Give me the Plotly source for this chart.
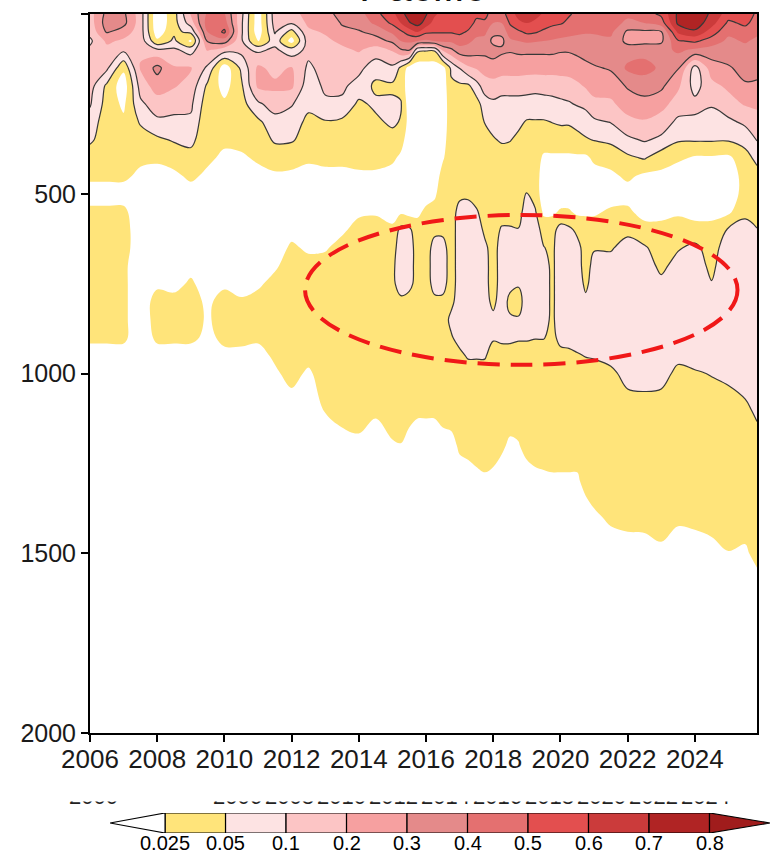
import numpy as np
import plotly.graph_objects as go

# time axis (finer spacing where the deep structure is narrow)
years = [2006.0, 2006.5, 2007.0, 2007.5, 2008.0, 2008.5, 2009.0, 2009.5, 2010.0, 2010.5,
         2011.0, 2011.5, 2012.0, 2012.5, 2013.0, 2013.5, 2014.0, 2014.5, 2015.0,
         2015.25, 2015.5, 2015.75, 2016.0, 2016.25, 2016.5, 2016.75, 2017.0, 2017.25,
         2017.5, 2017.75, 2018.0, 2018.25, 2018.5, 2018.75, 2019.0, 2019.25, 2019.5,
         2019.75, 2020.0, 2020.25, 2020.5, 2020.75, 2021.0, 2021.5, 2022.0, 2022.5,
         2023.0, 2023.5, 2024.0, 2024.5, 2025.0, 2025.5, 2025.85]

depth_upper = [0, 25, 50, 75, 100, 150, 200, 250, 300, 350]
depth_mid = [400, 450, 500, 550, 600, 650, 700, 750, 800, 850, 900, 950]
depth_deep = [1000, 1100, 1200, 1300, 1400, 1500, 1600, 2000]

# one profile per year
upper_layer = [
    [0.16, 0.15, 0.13, 0.09, 0.12, 0.15, 0.14, 0.11, 0.08, 0.06],      # 2006.0
    [0.33, 0.35, 0.31, 0.22, 0.17, 0.12, 0.045, 0.04, 0.035, 0.035],  # 2006.5
    [0.32, 0.33, 0.25, 0.18, 0.12, 0.03, 0.01, 0.02, 0.03, 0.035],    # 2007.0
    [0.15, 0.15, 0.15, 0.16, 0.18, 0.21, 0.14, 0.09, 0.055, 0.04],    # 2007.5
    [0.005, 0.005, 0.01, 0.03, 0.12, 0.33, 0.25, 0.15, 0.09, 0.045],  # 2008.0
    [0.04, 0.04, 0.045, 0.06, 0.12, 0.21, 0.21, 0.13, 0.09, 0.055],   # 2008.5
    [0.21, 0.15, 0.06, 0.02, 0.08, 0.21, 0.16, 0.12, 0.09, 0.065],    # 2009.0
    [0.42, 0.45, 0.4, 0.31, 0.21, 0.09, 0.045, 0.035, 0.03, 0.03],    # 2009.5
    [0.41, 0.45, 0.52, 0.35, 0.14, 0.01, 0.015, 0.03, 0.035, 0.03],   # 2010.0
    [0.13, 0.12, 0.12, 0.12, 0.13, 0.06, 0.045, 0.04, 0.04, 0.035],   # 2010.5
    [0.01, 0.01, 0.01, 0.02, 0.09, 0.22, 0.22, 0.09, 0.045, 0.04],    # 2011.0
    [0.15, 0.14, 0.11, 0.08, 0.12, 0.17, 0.22, 0.15, 0.08, 0.055],    # 2011.5
    [0.12, 0.11, 0.04, 0.015, 0.07, 0.21, 0.22, 0.11, 0.07, 0.055],   # 2012.0
    [0.28, 0.22, 0.18, 0.15, 0.13, 0.09, 0.07, 0.06, 0.045, 0.04],    # 2012.5
    [0.26, 0.22, 0.21, 0.18, 0.16, 0.14, 0.12, 0.09, 0.048, 0.04],    # 2013.0
    [0.34, 0.31, 0.27, 0.22, 0.18, 0.14, 0.12, 0.09, 0.045, 0.04],    # 2013.5
    [0.36, 0.34, 0.29, 0.24, 0.21, 0.13, 0.08, 0.045, 0.04, 0.04],    # 2014.0
    [0.47, 0.42, 0.33, 0.26, 0.16, 0.07, 0.045, 0.06, 0.045, 0.04],   # 2014.5
    [0.57, 0.52, 0.42, 0.32, 0.21, 0.09, 0.045, 0.06, 0.06, 0.04],    # 2015.0
    [0.66, 0.6, 0.48, 0.4, 0.29, 0.045, 0.04, 0.055, 0.048, 0.035],   # 2015.25
    [0.75, 0.69, 0.55, 0.42, 0.31, 0.015, 0.01, 0.01, 0.015, 0.01],   # 2015.5
    [0.78, 0.74, 0.6, 0.4, 0.06, 0.01, 0.01, 0.01, 0.01, 0.01],       # 2015.75
    [0.71, 0.66, 0.52, 0.38, 0.055, 0.01, 0.01, 0.01, 0.01, 0.01],    # 2016.0
    [0.62, 0.56, 0.51, 0.4, 0.055, 0.01, 0.01, 0.01, 0.01, 0.01],     # 2016.25
    [0.56, 0.53, 0.51, 0.42, 0.22, 0.015, 0.01, 0.01, 0.01, 0.015],   # 2016.5
    [0.55, 0.53, 0.51, 0.42, 0.28, 0.06, 0.045, 0.04, 0.04, 0.04],    # 2016.75
    [0.56, 0.55, 0.52, 0.45, 0.36, 0.105, 0.045, 0.04, 0.04, 0.04],   # 2017.0
    [0.56, 0.54, 0.49, 0.42, 0.36, 0.18, 0.045, 0.04, 0.04, 0.04],    # 2017.25
    [0.52, 0.48, 0.43, 0.38, 0.34, 0.21, 0.08, 0.04, 0.04, 0.04],     # 2017.5
    [0.53, 0.48, 0.42, 0.37, 0.33, 0.24, 0.15, 0.075, 0.052, 0.04],   # 2017.75
    [0.45, 0.4, 0.33, 0.27, 0.34, 0.26, 0.16, 0.09, 0.065, 0.048],    # 2018.0
    [0.45, 0.4, 0.33, 0.27, 0.32, 0.24, 0.15, 0.08, 0.07, 0.055],     # 2018.25
    [0.56, 0.51, 0.45, 0.38, 0.31, 0.24, 0.15, 0.08, 0.065, 0.052],   # 2018.5
    [0.63, 0.58, 0.48, 0.4, 0.32, 0.24, 0.15, 0.08, 0.06, 0.045],     # 2018.75
    [0.66, 0.6, 0.52, 0.42, 0.32, 0.24, 0.14, 0.08, 0.048, 0.04],     # 2019.0
    [0.63, 0.58, 0.51, 0.41, 0.32, 0.24, 0.13, 0.08, 0.048, 0.04],    # 2019.25
    [0.59, 0.55, 0.48, 0.4, 0.32, 0.24, 0.14, 0.08, 0.048, 0.04],     # 2019.5
    [0.56, 0.52, 0.46, 0.39, 0.32, 0.24, 0.14, 0.085, 0.051, 0.04],   # 2019.75
    [0.53, 0.51, 0.44, 0.38, 0.31, 0.24, 0.15, 0.09, 0.055, 0.04],    # 2020.0
    [0.51, 0.48, 0.43, 0.37, 0.31, 0.24, 0.16, 0.095, 0.055, 0.04],   # 2020.25
    [0.48, 0.46, 0.42, 0.36, 0.32, 0.26, 0.18, 0.11, 0.06, 0.045],    # 2020.5
    [0.46, 0.44, 0.41, 0.36, 0.33, 0.28, 0.21, 0.13, 0.07, 0.048],    # 2020.75
    [0.46, 0.44, 0.41, 0.37, 0.35, 0.29, 0.23, 0.18, 0.09, 0.052],    # 2021.0
    [0.46, 0.44, 0.42, 0.38, 0.36, 0.31, 0.25, 0.18, 0.105, 0.06],    # 2021.5
    [0.42, 0.38, 0.28, 0.27, 0.35, 0.42, 0.31, 0.25, 0.17, 0.09],     # 2022.0
    [0.46, 0.4, 0.28, 0.27, 0.36, 0.44, 0.34, 0.27, 0.19, 0.11],      # 2022.5
    [0.52, 0.45, 0.29, 0.28, 0.36, 0.38, 0.32, 0.24, 0.15, 0.09],     # 2023.0
    [0.72, 0.72, 0.62, 0.49, 0.42, 0.31, 0.22, 0.15, 0.09, 0.055],    # 2023.5
    [0.78, 0.76, 0.68, 0.52, 0.38, 0.08, 0.08, 0.13, 0.09, 0.055],    # 2024.0
    [0.68, 0.64, 0.55, 0.45, 0.36, 0.25, 0.17, 0.11, 0.08, 0.055],    # 2024.5
    [0.55, 0.48, 0.42, 0.38, 0.35, 0.29, 0.22, 0.16, 0.09, 0.055],    # 2025.0
    [0.56, 0.52, 0.46, 0.41, 0.37, 0.33, 0.29, 0.21, 0.12, 0.07],     # 2025.5
    [0.48, 0.46, 0.42, 0.38, 0.35, 0.32, 0.29, 0.22, 0.16, 0.105],    # 2025.85
]

middle_layer = [
    [0.035, 0.03, 0.015, 0.03, 0.04, 0.04, 0.04, 0.04, 0.04, 0.035, 0.03, 0.015],     # 2006.0
    [0.035, 0.03, 0.015, 0.03, 0.04, 0.04, 0.04, 0.04, 0.035, 0.035, 0.03, 0.015],    # 2006.5
    [0.035, 0.03, 0.015, 0.03, 0.035, 0.035, 0.03, 0.03, 0.03, 0.03, 0.03, 0.015],    # 2007.0
    [0.03, 0.02, 0.01, 0.01, 0.01, 0.01, 0.01, 0.01, 0.01, 0.01, 0.01, 0.01],         # 2007.5
    [0.03, 0.015, 0.01, 0.01, 0.01, 0.01, 0.01, 0.02, 0.035, 0.035, 0.03, 0.015],     # 2008.0
    [0.035, 0.02, 0.01, 0.01, 0.01, 0.01, 0.01, 0.015, 0.035, 0.035, 0.03, 0.015],    # 2008.5
    [0.04, 0.03, 0.015, 0.01, 0.01, 0.01, 0.015, 0.03, 0.035, 0.035, 0.03, 0.015],    # 2009.0
    [0.03, 0.02, 0.01, 0.01, 0.01, 0.01, 0.01, 0.01, 0.02, 0.022, 0.02, 0.01],        # 2009.5
    [0.02, 0.01, 0.01, 0.01, 0.01, 0.01, 0.01, 0.02, 0.035, 0.035, 0.03, 0.02],       # 2010.0
    [0.02, 0.01, 0.01, 0.01, 0.01, 0.01, 0.01, 0.01, 0.03, 0.035, 0.03, 0.02],        # 2010.5
    [0.03, 0.015, 0.01, 0.01, 0.01, 0.01, 0.01, 0.02, 0.035, 0.035, 0.03, 0.015],     # 2011.0
    [0.04, 0.02, 0.01, 0.01, 0.01, 0.01, 0.02, 0.035, 0.04, 0.04, 0.04, 0.03],        # 2011.5
    [0.035, 0.02, 0.01, 0.01, 0.015, 0.03, 0.04, 0.04, 0.04, 0.04, 0.04, 0.04],       # 2012.0
    [0.03, 0.015, 0.01, 0.01, 0.01, 0.02, 0.035, 0.04, 0.04, 0.04, 0.04, 0.035],      # 2012.5
    [0.035, 0.015, 0.01, 0.01, 0.01, 0.022, 0.035, 0.04, 0.04, 0.04, 0.04, 0.04],     # 2013.0
    [0.035, 0.015, 0.01, 0.01, 0.02, 0.035, 0.04, 0.04, 0.04, 0.04, 0.04, 0.04],      # 2013.5
    [0.035, 0.02, 0.01, 0.02, 0.035, 0.04, 0.04, 0.04, 0.04, 0.04, 0.04, 0.04],       # 2014.0
    [0.035, 0.02, 0.01, 0.022, 0.035, 0.04, 0.04, 0.04, 0.04, 0.04, 0.04, 0.04],      # 2014.5
    [0.03, 0.015, 0.01, 0.015, 0.03, 0.04, 0.045, 0.045, 0.04, 0.04, 0.04, 0.04],     # 2015.0
    [0.02, 0.01, 0.01, 0.02, 0.065, 0.075, 0.075, 0.07, 0.045, 0.04, 0.04, 0.04],     # 2015.25
    [0.01, 0.02, 0.02, 0.015, 0.06, 0.07, 0.07, 0.065, 0.04, 0.04, 0.04, 0.04],       # 2015.5
    [0.01, 0.01, 0.01, 0.02, 0.035, 0.04, 0.04, 0.04, 0.04, 0.04, 0.04, 0.04],        # 2015.75
    [0.01, 0.01, 0.015, 0.03, 0.04, 0.04, 0.04, 0.04, 0.04, 0.04, 0.04, 0.04],        # 2016.0
    [0.01, 0.01, 0.02, 0.035, 0.045, 0.065, 0.07, 0.065, 0.045, 0.04, 0.04, 0.04],    # 2016.25
    [0.022, 0.035, 0.04, 0.04, 0.045, 0.065, 0.07, 0.065, 0.045, 0.04, 0.04, 0.04],   # 2016.5
    [0.04, 0.04, 0.04, 0.04, 0.04, 0.04, 0.04, 0.04, 0.045, 0.06, 0.048, 0.04],       # 2016.75
    [0.04, 0.04, 0.045, 0.065, 0.07, 0.07, 0.07, 0.07, 0.07, 0.07, 0.065, 0.045],     # 2017.0
    [0.04, 0.04, 0.045, 0.07, 0.075, 0.075, 0.075, 0.075, 0.075, 0.07, 0.07, 0.055],  # 2017.25
    [0.04, 0.04, 0.04, 0.055, 0.075, 0.075, 0.075, 0.075, 0.075, 0.075, 0.07, 0.055], # 2017.5
    [0.04, 0.04, 0.04, 0.04, 0.045, 0.06, 0.065, 0.065, 0.065, 0.065, 0.065, 0.055],  # 2017.75
    [0.04, 0.04, 0.04, 0.04, 0.04, 0.04, 0.04, 0.04, 0.045, 0.06, 0.055, 0.04],       # 2018.0
    [0.04, 0.035, 0.035, 0.04, 0.055, 0.07, 0.07, 0.07, 0.07, 0.07, 0.06, 0.04],      # 2018.25
    [0.04, 0.04, 0.04, 0.04, 0.055, 0.07, 0.07, 0.06, 0.045, 0.055, 0.06, 0.04],      # 2018.5
    [0.04, 0.04, 0.04, 0.04, 0.052, 0.065, 0.065, 0.055, 0.04, 0.055, 0.055, 0.04],   # 2018.75
    [0.04, 0.04, 0.052, 0.075, 0.075, 0.075, 0.075, 0.075, 0.075, 0.07, 0.055, 0.04], # 2019.0
    [0.04, 0.04, 0.04, 0.055, 0.075, 0.075, 0.075, 0.075, 0.075, 0.07, 0.052, 0.04],  # 2019.25
    [0.02, 0.01, 0.01, 0.02, 0.04, 0.052, 0.07, 0.075, 0.075, 0.07, 0.052, 0.04],     # 2019.5
    [0.02, 0.01, 0.01, 0.02, 0.04, 0.045, 0.045, 0.045, 0.045, 0.045, 0.045, 0.04],   # 2019.75
    [0.02, 0.01, 0.01, 0.028, 0.07, 0.075, 0.075, 0.075, 0.075, 0.075, 0.06, 0.045],  # 2020.0
    [0.02, 0.01, 0.01, 0.028, 0.06, 0.075, 0.075, 0.075, 0.075, 0.075, 0.065, 0.045], # 2020.25
    [0.02, 0.01, 0.01, 0.02, 0.045, 0.065, 0.07, 0.075, 0.075, 0.075, 0.07, 0.048],   # 2020.5
    [0.02, 0.01, 0.01, 0.02, 0.04, 0.04, 0.04, 0.045, 0.06, 0.07, 0.07, 0.052],       # 2020.75
    [0.03, 0.015, 0.01, 0.02, 0.04, 0.048, 0.065, 0.07, 0.075, 0.075, 0.07, 0.055],   # 2021.0
    [0.035, 0.02, 0.01, 0.03, 0.04, 0.048, 0.065, 0.07, 0.075, 0.075, 0.075, 0.065],  # 2021.5
    [0.045, 0.03, 0.015, 0.03, 0.045, 0.065, 0.075, 0.075, 0.075, 0.08, 0.08, 0.075], # 2022.0
    [0.055, 0.02, 0.01, 0.015, 0.035, 0.055, 0.07, 0.075, 0.08, 0.08, 0.08, 0.08],    # 2022.5
    [0.035, 0.02, 0.01, 0.015, 0.035, 0.04, 0.045, 0.06, 0.075, 0.08, 0.08, 0.08],    # 2023.0
    [0.03, 0.01, 0.01, 0.02, 0.04, 0.048, 0.065, 0.075, 0.075, 0.075, 0.075, 0.06],   # 2023.5
    [0.022, 0.01, 0.01, 0.015, 0.035, 0.06, 0.07, 0.075, 0.075, 0.075, 0.075, 0.065], # 2024.0
    [0.022, 0.01, 0.01, 0.015, 0.035, 0.04, 0.045, 0.052, 0.07, 0.075, 0.075, 0.07],  # 2024.5
    [0.02, 0.01, 0.01, 0.02, 0.055, 0.075, 0.08, 0.08, 0.08, 0.08, 0.08, 0.08],       # 2025.0
    [0.04, 0.035, 0.035, 0.045, 0.065, 0.075, 0.08, 0.08, 0.08, 0.08, 0.08, 0.08],    # 2025.5
    [0.065, 0.04, 0.035, 0.04, 0.052, 0.07, 0.075, 0.08, 0.08, 0.08, 0.08, 0.08],     # 2025.85
]

deep_layer = [
    [0.01, 0.01, 0.01, 0.01, 0.01, 0.01, 0.01, 0.005],     # 2006.0
    [0.01, 0.01, 0.01, 0.01, 0.01, 0.01, 0.01, 0.005],     # 2006.5
    [0.01, 0.01, 0.01, 0.01, 0.01, 0.01, 0.01, 0.005],     # 2007.0
    [0.01, 0.01, 0.01, 0.01, 0.01, 0.01, 0.01, 0.005],     # 2007.5
    [0.01, 0.01, 0.01, 0.01, 0.01, 0.01, 0.01, 0.005],     # 2008.0
    [0.01, 0.01, 0.01, 0.01, 0.01, 0.01, 0.01, 0.005],     # 2008.5
    [0.01, 0.01, 0.01, 0.01, 0.01, 0.01, 0.01, 0.005],     # 2009.0
    [0.01, 0.01, 0.01, 0.01, 0.01, 0.01, 0.01, 0.005],     # 2009.5
    [0.01, 0.01, 0.01, 0.01, 0.01, 0.01, 0.01, 0.005],     # 2010.0
    [0.01, 0.01, 0.01, 0.01, 0.01, 0.01, 0.01, 0.005],     # 2010.5
    [0.01, 0.01, 0.01, 0.01, 0.01, 0.01, 0.01, 0.005],     # 2011.0
    [0.02, 0.01, 0.01, 0.01, 0.01, 0.01, 0.01, 0.005],     # 2011.5
    [0.035, 0.01, 0.01, 0.01, 0.01, 0.01, 0.01, 0.005],    # 2012.0
    [0.02, 0.01, 0.01, 0.01, 0.01, 0.01, 0.01, 0.005],     # 2012.5
    [0.04, 0.027, 0.01, 0.01, 0.01, 0.01, 0.01, 0.005],    # 2013.0
    [0.04, 0.035, 0.015, 0.01, 0.01, 0.01, 0.01, 0.005],   # 2013.5
    [0.04, 0.035, 0.02, 0.01, 0.01, 0.01, 0.01, 0.005],    # 2014.0
    [0.04, 0.03, 0.01, 0.01, 0.01, 0.01, 0.01, 0.005],     # 2014.5
    [0.04, 0.035, 0.023, 0.01, 0.01, 0.01, 0.01, 0.005],   # 2015.0
    [0.04, 0.04, 0.024, 0.01, 0.01, 0.01, 0.01, 0.005],    # 2015.25
    [0.04, 0.035, 0.015, 0.01, 0.01, 0.01, 0.01, 0.005],   # 2015.5
    [0.04, 0.03, 0.01, 0.01, 0.01, 0.01, 0.01, 0.005],     # 2015.75
    [0.04, 0.03, 0.01, 0.01, 0.01, 0.01, 0.01, 0.005],     # 2016.0
    [0.04, 0.03, 0.01, 0.01, 0.01, 0.01, 0.01, 0.005],     # 2016.25
    [0.04, 0.035, 0.015, 0.01, 0.01, 0.01, 0.01, 0.005],   # 2016.5
    [0.04, 0.04, 0.015, 0.01, 0.01, 0.01, 0.01, 0.005],    # 2016.75
    [0.04, 0.04, 0.03, 0.01, 0.01, 0.01, 0.01, 0.005],     # 2017.0
    [0.04, 0.04, 0.035, 0.01, 0.01, 0.01, 0.01, 0.005],    # 2017.25
    [0.04, 0.04, 0.04, 0.015, 0.01, 0.01, 0.01, 0.005],    # 2017.5
    [0.04, 0.04, 0.04, 0.02, 0.01, 0.01, 0.01, 0.005],     # 2017.75
    [0.04, 0.04, 0.04, 0.015, 0.01, 0.01, 0.01, 0.005],    # 2018.0
    [0.04, 0.04, 0.03, 0.01, 0.01, 0.01, 0.01, 0.005],     # 2018.25
    [0.04, 0.04, 0.02, 0.01, 0.01, 0.01, 0.01, 0.005],     # 2018.5
    [0.04, 0.04, 0.023, 0.01, 0.01, 0.01, 0.01, 0.005],    # 2018.75
    [0.04, 0.04, 0.035, 0.01, 0.01, 0.01, 0.01, 0.005],    # 2019.0
    [0.04, 0.04, 0.04, 0.015, 0.01, 0.01, 0.01, 0.005],    # 2019.25
    [0.04, 0.04, 0.04, 0.018, 0.01, 0.01, 0.01, 0.005],    # 2019.5
    [0.04, 0.04, 0.04, 0.02, 0.01, 0.01, 0.01, 0.005],     # 2019.75
    [0.04, 0.04, 0.04, 0.02, 0.01, 0.01, 0.01, 0.005],     # 2020.0
    [0.04, 0.04, 0.04, 0.02, 0.01, 0.01, 0.01, 0.005],     # 2020.25
    [0.04, 0.04, 0.04, 0.02, 0.01, 0.01, 0.01, 0.005],     # 2020.5
    [0.04, 0.04, 0.04, 0.035, 0.01, 0.01, 0.01, 0.005],    # 2020.75
    [0.04, 0.04, 0.04, 0.04, 0.02, 0.01, 0.01, 0.005],     # 2021.0
    [0.045, 0.04, 0.04, 0.04, 0.03, 0.01, 0.01, 0.005],    # 2021.5
    [0.065, 0.04, 0.04, 0.04, 0.035, 0.01, 0.01, 0.005],   # 2022.0
    [0.07, 0.04, 0.04, 0.04, 0.035, 0.012, 0.01, 0.005],   # 2022.5
    [0.065, 0.04, 0.04, 0.04, 0.04, 0.018, 0.01, 0.005],   # 2023.0
    [0.045, 0.04, 0.04, 0.04, 0.03, 0.01, 0.01, 0.005],    # 2023.5
    [0.048, 0.04, 0.04, 0.04, 0.033, 0.01, 0.01, 0.005],   # 2024.0
    [0.052, 0.04, 0.04, 0.04, 0.037, 0.015, 0.01, 0.005],  # 2024.5
    [0.06, 0.04, 0.04, 0.04, 0.04, 0.024, 0.01, 0.005],    # 2025.0
    [0.075, 0.045, 0.04, 0.04, 0.04, 0.02, 0.01, 0.005],   # 2025.5
    [0.08, 0.06, 0.04, 0.04, 0.04, 0.035, 0.01, 0.005],    # 2025.85
]

levels = [0.025, 0.05, 0.1, 0.2, 0.3, 0.4, 0.5, 0.6, 0.7, 0.8]
level_labels = ["0.025", "0.05", "0.1", "0.2", "0.3", "0.4", "0.5", "0.6", "0.7", "0.8"]
band_colors = ["#FFFFFF", "#FFE47A", "#FDE3E3", "#FCC5C5", "#F6A0A0", "#E48A8A",
               "#E47070", "#E34F4F", "#CB3B3B", "#B02424", "#A01C1C"]
line_levels = [0.05, 0.1, 0.3, 0.5, 0.7]
tick_years = [2006, 2008, 2010, 2012, 2014, 2016, 2018, 2020, 2022, 2024]
depth_ticks = [0, 500, 1000, 1500, 2000]

# ---------------------------------------------------------------
depths = depth_upper + depth_mid + depth_deep
z = np.hstack([np.array(upper_layer), np.array(middle_layer), np.array(deep_layer)]).T

# uneven levels -> evenly spaced class index so the contour bands line up
edges = [0.0] + levels + [0.9]
z_idx = np.interp(z, edges, np.arange(len(edges)))
n = len(levels)
cscale = [[i / n, c] for i, c in enumerate(band_colors)]

FONT = "Liberation Sans"
W, H = 772, 857

fig = go.Figure()
fig.add_trace(go.Contour(
    x=years, y=depths, z=z_idx, autocontour=False,
    contours=dict(start=1, end=n, size=1, coloring="fill", showlines=False),
    colorscale=cscale, showscale=False, line=dict(width=0),
    hoverinfo="skip"))

for lv in line_levels:
    k = float(np.interp(lv, edges, np.arange(len(edges))))
    fig.add_trace(go.Contour(
        x=years, y=depths, z=z_idx, autocontour=False,
        contours=dict(start=k, end=k, size=1, coloring="none"),
        line=dict(color="#383838", width=1.2), showscale=False,
        hoverinfo="skip"))

# label bar
fig.add_trace(go.Bar(
    x=[1] * (n - 1), base=list(range(n - 1)), y=[0] * (n - 1), orientation="h",
    width=1, marker=dict(color=band_colors[1:n], line=dict(color="black", width=1.2)),
    xaxis="x3", yaxis="y3", hoverinfo="skip"))
fig.add_trace(go.Scatter(
    x=[0, -0.91, 0, 0], y=[0.5, 0, -0.5, 0.5], mode="lines", fill="toself",
    fillcolor=band_colors[0], line=dict(color="black", width=1.2),
    xaxis="x3", yaxis="y3", hoverinfo="skip"))
fig.add_trace(go.Scatter(
    x=[n - 1, n, n - 1, n - 1], y=[0.5, 0, -0.5, 0.5], mode="lines", fill="toself",
    fillcolor=band_colors[n], line=dict(color="black", width=1.2),
    xaxis="x3", yaxis="y3", hoverinfo="skip"))

# clipped row of labels left over above the bar
rem_x = [93.5] + [237.5 + 52 * i for i in range(len(tick_years))]
rem_t = ["2000"] + [str(y) for y in tick_years]
fig.add_trace(go.Scatter(
    x=rem_x, y=[798.5] * len(rem_x), text=rem_t, mode="text",
    textfont=dict(family=FONT, size=22, color="#222"),
    xaxis="x4", yaxis="y4", hoverinfo="skip"))

axis_style = dict(showline=True, linewidth=2, linecolor="black", mirror=True,
                  ticks="outside", ticklen=7, tickwidth=2, tickcolor="black",
                  showgrid=False, zeroline=False, automargin=False)

bar_labels = [dict(text=t, x=i, xref="x3", y=1 - 843 / H, yref="paper",
                   xanchor="center", yanchor="middle", showarrow=False,
                   font=dict(family=FONT, size=20, color="#000"))
              for i, t in enumerate(level_labels)]

fig.update_layout(
    width=W, height=H, margin=dict(l=0, r=0, t=0, b=0, autoexpand=False),
    paper_bgcolor="white", plot_bgcolor="white", showlegend=False,
    xaxis=dict(domain=[90 / W, 757 / W], range=[2006, 2025.85], tickvals=tick_years,
               ticklabelstandoff=-5,
               tickfont=dict(family=FONT, size=26, color="#1a1a1a"), **axis_style),
    yaxis=dict(domain=[1 - 733 / H, 1 - 14 / H], range=[2000, 0], tickvals=depth_ticks,
               tickfont=dict(family=FONT, size=25, color="#1a1a1a"), **axis_style),
    xaxis3=dict(domain=[110 / W, 770 / W], range=[-0.91, n], anchor="y3",
                visible=False, automargin=False),
    yaxis3=dict(domain=[1 - 833 / H, 1 - 813 / H], range=[-0.5, 0.5], anchor="x3",
                visible=False, automargin=False),
    xaxis4=dict(domain=[0, 1], range=[0, W], anchor="y4", visible=False, automargin=False),
    yaxis4=dict(domain=[1 - 812 / H, 1 - 780 / H], range=[812, 780], anchor="x4",
                visible=False, automargin=False),
    annotations=[dict(text="Pacific", x=423 / W, y=1.0165, xref="paper", yref="paper",
                      xanchor="center", yanchor="middle", showarrow=False,
                      font=dict(family=FONT, size=43, color="#111"))] + bar_labels,
    shapes=[
        dict(type="circle", xref="x", yref="y", x0=2012.4, x1=2025.27, y0=559, y1=976,
             line=dict(color="#F01818", width=4, dash="22px,11px")),
        dict(type="rect", xref="paper", yref="paper", x0=0, x1=1,
             y0=1 - 801.5 / H, y1=1 - 776 / H, fillcolor="white",
             line=dict(width=0), layer="above"),
    ],
)

# the figure is exactly the window size, so drop the page's default body margin
fig.write_html("out.html", config=dict(displayModeBar=False),
               post_script="document.body.style.margin='0';"
                           "document.body.style.overflow='hidden';")
